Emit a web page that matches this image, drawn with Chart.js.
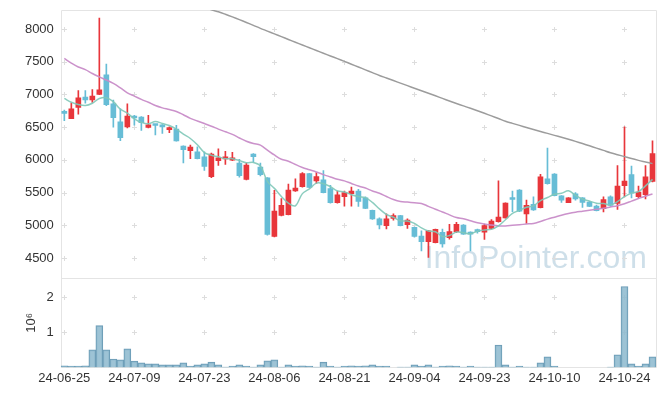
<!DOCTYPE html>
<html>
<head>
<meta charset="utf-8">
<script src="https://cdn.jsdelivr.net/npm/chart.js@4.4.1/dist/chart.umd.min.js"></script>
<style>
  html, body { margin: 0; padding: 0; background: #fff; }
  #wrap { width: 665px; height: 396px; }
</style>
</head>
<body>
<div id="wrap"><canvas id="stockChart" width="665" height="396"></canvas></div>
<script>
// trading days (yy-mm-dd)
const dates = [
    '24-06-25', '24-06-26', '24-06-27', '24-06-28',
    '24-07-01', '24-07-02', '24-07-03', '24-07-04', '24-07-05', '24-07-08', '24-07-09', '24-07-10',
    '24-07-11', '24-07-12', '24-07-15', '24-07-16', '24-07-17', '24-07-18', '24-07-19', '24-07-22',
    '24-07-23', '24-07-24', '24-07-25', '24-07-26', '24-07-29', '24-07-30', '24-07-31',
    '24-08-01', '24-08-02', '24-08-05', '24-08-06', '24-08-07', '24-08-08', '24-08-09', '24-08-12',
    '24-08-13', '24-08-14', '24-08-16', '24-08-19', '24-08-20', '24-08-21', '24-08-22', '24-08-23',
    '24-08-26', '24-08-27', '24-08-28', '24-08-29', '24-08-30',
    '24-09-02', '24-09-03', '24-09-04', '24-09-05', '24-09-06', '24-09-09', '24-09-10', '24-09-11',
    '24-09-12', '24-09-13', '24-09-19', '24-09-20', '24-09-23', '24-09-24', '24-09-25', '24-09-26',
    '24-09-27', '24-09-30',
    '24-10-02', '24-10-04', '24-10-07', '24-10-08', '24-10-10', '24-10-11', '24-10-14', '24-10-15',
    '24-10-16', '24-10-17', '24-10-18', '24-10-21', '24-10-22', '24-10-23', '24-10-24', '24-10-25',
    '24-10-28', '24-10-29', '24-10-30'
];

const opens = [
    6720, 6630, 6800, 6960, 6915, 7000, 7300, 6855, 6580, 6505,
    6670, 6655, 6495, 6535, 6535, 6462, 6470, 6210, 6140, 6125,
    6045, 5745, 5990, 6015, 5995, 5950, 5700, 6090, 5890, 5725,
    4830, 5150, 5165, 5525, 5590, 5790, 5680, 5695, 5560, 5345,
    5440, 5485, 5525, 5420, 5230, 5100, 4995, 5105, 5150, 5010,
    4970, 4835, 4750, 4735, 4895, 4810, 4905, 5005, 4890, 4925,
    4895, 4955, 5055, 5115, 5420, 5540, 5175, 5320, 5270, 5710,
    5785, 5450, 5345, 5480, 5420, 5355, 5295, 5255, 5435, 5335,
    5605, 5775, 5440, 5470, 5670
];
const highs = [
    6760, 6870, 7060, 7060, 7075, 8165, 7465, 6915, 6780, 6855,
    6680, 6660, 6680, 6540, 6540, 6507, 6530, 6215, 6225, 6200,
    6125, 6105, 6170, 6130, 6115, 6010, 5950, 6095, 5950, 5730,
    5535, 5410, 5630, 5710, 5805, 5795, 5805, 5835, 5610, 5525,
    5525, 5585, 5550, 5435, 5235, 5115, 5175, 5175, 5155, 5100,
    4975, 4915, 4925, 4945, 4945, 5015, 5045, 5010, 4900, 4945,
    5015, 5090, 5680, 5345, 5525, 5545, 5385, 5435, 5780, 6180,
    5790, 5455, 5425, 5500, 5425, 5370, 5310, 5435, 5450, 5915,
    6505, 5905, 5600, 5915, 6290
];
const lows = [
    6600, 6630, 6700, 6865, 6880, 6995, 6830, 6500, 6295, 6490,
    6530, 6450, 6490, 6380, 6405, 6416, 6285, 5955, 6020, 6015,
    5840, 5730, 5915, 5930, 5990, 5735, 5695, 5965, 5755, 4850,
    4825, 5145, 5160, 5520, 5585, 5575, 5640, 5495, 5340, 5340,
    5295, 5295, 5290, 5255, 5090, 4945, 4945, 5080, 4990, 4955,
    4820, 4610, 4510, 4730, 4665, 4790, 4890, 4860, 4610, 4880,
    4785, 4945, 5050, 5110, 5210, 5210, 5030, 5230, 5265, 5630,
    5450, 5350, 5345, 5385, 5275, 5285, 5220, 5205, 5290, 5245,
    5435, 5420, 5420, 5405, 5665
];
const closes = [
    6710, 6780, 6950, 6915, 6975, 7070, 6845, 6645, 6340, 6670,
    6640, 6570, 6535, 6525, 6505, 6492, 6290, 6155, 6195, 6020,
    5900, 6090, 6030, 6045, 6030, 5760, 5920, 6050, 5775, 4860,
    5220, 5305, 5540, 5570, 5790, 5580, 5745, 5500, 5345, 5465,
    5500, 5525, 5365, 5260, 5100, 5005, 5100, 5150, 4995, 5080,
    4830, 4750, 4915, 4940, 4715, 4905, 5015, 4865, 4865, 4905,
    4995, 5065, 5125, 5340, 5395, 5215, 5305, 5235, 5740, 5635,
    5455, 5385, 5420, 5405, 5350, 5290, 5225, 5395, 5305, 5600,
    5675, 5490, 5510, 5740, 6095
];
const volumes = [
    42000, 40000, 41000, 43000, 500000, 1190000, 500000, 240000, 215000, 530000,
    180000, 130000, 105000, 100000, 72000, 70000, 75000, 130000, 40000, 70000,
    100000, 150000, 70000, 12000, 40000, 70000, 40000, 12000, 70000, 185000,
    215000, 12000, 70000, 40000, 42000, 40000, 12000, 150000, 40000, 12000,
    40000, 42000, 40000, 42000, 70000, 40000, 40000, 0, 12000, 12000,
    70000, 40000, 70000, 12000, 40000, 42000, 40000, 12000, 40000, 12000,
    12000, 12000, 640000, 70000, 12000, 40000, 12000, 12000, 130000, 300000,
    40000, 0, 0, 0, 0, 0, 0, 0, 12000, 360000,
    2310000, 100000, 40000, 100000, 300000
];

// moving averages
const ma5 = [
    6940, 6880, 6845, 6830, 6866, 6938, 6951, 6890, 6775, 6714,
    6628, 6573, 6551, 6588, 6555, 6525, 6469, 6393, 6327, 6230,
    6112, 6072, 6047, 6017, 6019, 5991, 5957, 5961, 5907, 5673,
    5565, 5442, 5340, 5299, 5485, 5557, 5645, 5637, 5592, 5527,
    5511, 5467, 5440, 5423, 5350, 5251, 5166, 5123, 5070, 5066,
    5031, 4961, 4914, 4903, 4830, 4845, 4898, 4888, 4873, 4911,
    4929, 4939, 4991, 5086, 5184, 5228, 5276, 5298, 5378, 5426,
    5474, 5490, 5527, 5460, 5403, 5370, 5338, 5333, 5313, 5363,
    5440, 5493, 5516, 5603, 5702
];
const ma20 = [
    7550, 7480, 7420, 7380, 7320, 7268, 7220, 7168, 7100, 7025,
    6975, 6925, 6880, 6830, 6795, 6770, 6740, 6690, 6635, 6595,
    6555, 6515, 6470, 6430, 6390, 6335, 6285, 6250, 6225, 6150,
    6075, 6010, 5980, 5930, 5885, 5850, 5815, 5775, 5740, 5705,
    5680, 5640, 5600, 5570, 5525, 5490, 5440, 5395, 5365, 5355,
    5345, 5335, 5290, 5245, 5205, 5160, 5120, 5100, 5070, 5040,
    5020, 5005, 4992, 4990, 5000, 5010, 5020, 5030, 5060, 5095,
    5125, 5155, 5180, 5200, 5215, 5230, 5245, 5260, 5280, 5300,
    5330, 5370, 5410, 5445, 5480
];
const ma60 = [
    null, null, null, null, null, null, null, null, null, null,
    null, null, null, null, null, null, null, null, null, 8385,
    8340, 8293, 8262, 8225, 8185, 8143, 8100, 8055, 8010, 7968,
    7925, 7883, 7840, 7798, 7756, 7714, 7672, 7630, 7588, 7547,
    7505, 7462, 7419, 7376, 7333, 7290, 7251, 7212, 7173, 7134,
    7095, 7057, 7018, 6979, 6940, 6900, 6862, 6825, 6788, 6750,
    6712, 6672, 6632, 6590, 6558, 6527, 6495, 6465, 6435, 6405,
    6375, 6345, 6315, 6283, 6250, 6215, 6180, 6145, 6110, 6080,
    6050, 6020, 5993, 5968, 5943
];

const priceTicks = [4500, 5000, 5500, 6000, 6500, 7000, 7500, 8000];
const volumeTicks = [1000000, 2000000];

document.addEventListener('DOMContentLoaded', () => {
    const fontFamily = '"Liberation Sans", Arial, sans-serif';
    const upColor = '#e8363b';
    const downColor = '#67bdd6';
    const gridColor = '#e4e4e4';

    const candleColors = opens.map((o, i) => closes[i] >= o ? upColor : downColor);

    // frame, grid crosses and watermark, under the data
    const backdropPlugin = {
        id: 'backdrop',
        beforeDatasetsDraw(chart) {
            const { ctx, chartArea, scales } = chart;
            const { x, y, vol } = scales;
            ctx.save();

            // watermark
            ctx.font = '32px ' + fontFamily;
            ctx.fillStyle = 'rgba(190, 212, 226, 0.75)';
            ctx.textAlign = 'right';
            ctx.textBaseline = 'alphabetic';
            ctx.fillText('InfoPointer.com', chartArea.right - 9, y.bottom - 10);

            // frame + panel separator
            ctx.strokeStyle = gridColor;
            ctx.lineWidth = 1;
            const l = Math.round(chartArea.left) + 0.5;
            const r = Math.round(chartArea.right) + 0.5;
            const t = Math.round(chartArea.top) + 0.5;
            const b = Math.round(chartArea.bottom) + 0.5;
            const mid = Math.round(y.bottom) + 0.5;
            ctx.beginPath();
            ctx.moveTo(l, t); ctx.lineTo(r, t); ctx.lineTo(r, b); ctx.lineTo(l, b); ctx.closePath();
            ctx.moveTo(l, mid); ctx.lineTo(r, mid);
            ctx.stroke();

            // little crosses where grid lines would meet
            const xs = x.ticks.map(tk => Math.round(x.getPixelForValue(tk.value)) + 0.5);
            const ys = priceTicks.map(v => Math.round(y.getPixelForValue(v)) + 0.5)
                .concat(volumeTicks.map(v => Math.round(vol.getPixelForValue(v)) + 0.5));
            ctx.strokeStyle = '#dddddd';
            ctx.beginPath();
            xs.forEach(px => {
                ys.forEach(py => {
                    ctx.moveTo(px - 2.5, py); ctx.lineTo(px + 2.5, py);
                    ctx.moveTo(px, py - 2.5); ctx.lineTo(px, py + 2.5);
                });
            });
            ctx.stroke();
            ctx.restore();
        }
    };

    const tickFont = { family: fontFamily, size: 13 };

    new Chart(document.getElementById('stockChart'), {
        type: 'bar',
        data: {
            labels: dates,
            datasets: [
                {
                    type: 'line', label: 'MA5', data: ma5, yAxisID: 'y',
                    borderColor: 'rgba(128, 200, 184, 0.9)', borderWidth: 1.5,
                    pointRadius: 0, tension: 0.35, order: 0
                },
                {
                    type: 'line', label: 'MA20', data: ma20, yAxisID: 'y',
                    borderColor: 'rgba(200, 140, 200, 0.95)', borderWidth: 1.5,
                    pointRadius: 0, tension: 0.35, order: 0
                },
                {
                    type: 'line', label: 'MA60', data: ma60, yAxisID: 'y',
                    borderColor: '#9c9c9c', borderWidth: 1.5,
                    pointRadius: 0, tension: 0.35, order: 0
                },
                {
                    label: 'wick', yAxisID: 'y',
                    data: lows.map((lo, i) => [lo, highs[i]]),
                    backgroundColor: candleColors,
                    barThickness: 1, grouped: false, order: 2
                },
                {
                    label: 'body', yAxisID: 'y',
                    data: opens.map((o, i) => [o, closes[i]]),
                    backgroundColor: candleColors,
                    barThickness: 5, minBarLength: 2, grouped: false, order: 1
                },
                {
                    label: 'volume', yAxisID: 'vol',
                    data: volumes,
                    backgroundColor: 'rgba(140, 184, 206, 0.85)',
                    borderColor: '#6c9cb6', borderWidth: 1,
                    barPercentage: 1, categoryPercentage: 1,
                    grouped: false, order: 3
                }
            ]
        },
        options: {
            responsive: false,
            animation: false,
            events: [],
            layout: { padding: { left: 17, top: 10, right: 9, bottom: 7 } },
            plugins: {
                legend: { display: false },
                tooltip: { enabled: false }
            },
            scales: {
                x: {
                    type: 'category',
                    offset: true,
                    grid: { display: false, drawTicks: false },
                    border: { display: false },
                    ticks: {
                        autoSkip: false, maxRotation: 0, padding: 3,
                        color: '#333', font: tickFont
                    },
                    afterBuildTicks: (scale) => {
                        scale.ticks = scale.ticks.filter(tk => tk.value % 10 === 0);
                    }
                },
                vol: {
                    position: 'left',
                    stack: 'panels',
                    stackWeight: 1,
                    min: 0,
                    max: 2550000,
                    grid: { display: false, drawTicks: false },
                    border: { display: false },
                    title: {
                        display: true, text: '10⁶', color: '#333',
                        font: tickFont, padding: { top: 7, bottom: 0 }
                    },
                    ticks: {
                        padding: 7, color: '#333', font: tickFont,
                        callback: (v) => String(v / 1000000)
                    },
                    afterBuildTicks: (scale) => {
                        scale.ticks = volumeTicks.map(v => ({ value: v }));
                    },
                    afterFit: (scale) => { scale.paddingTop = 0; }
                },
                y: {
                    position: 'left',
                    stack: 'panels',
                    stackWeight: 3,
                    min: 4195,
                    max: 8290,
                    grid: { display: false, drawTicks: false },
                    border: { display: false },
                    ticks: {
                        padding: 7, color: '#333', font: tickFont,
                        callback: (v) => String(v)
                    },
                    afterBuildTicks: (scale) => {
                        scale.ticks = priceTicks.map(v => ({ value: v }));
                    },
                    afterFit: (scale) => { scale.paddingTop = 0; }
                }
            }
        },
        plugins: [backdropPlugin]
    });
});
</script>
</body>
</html>
